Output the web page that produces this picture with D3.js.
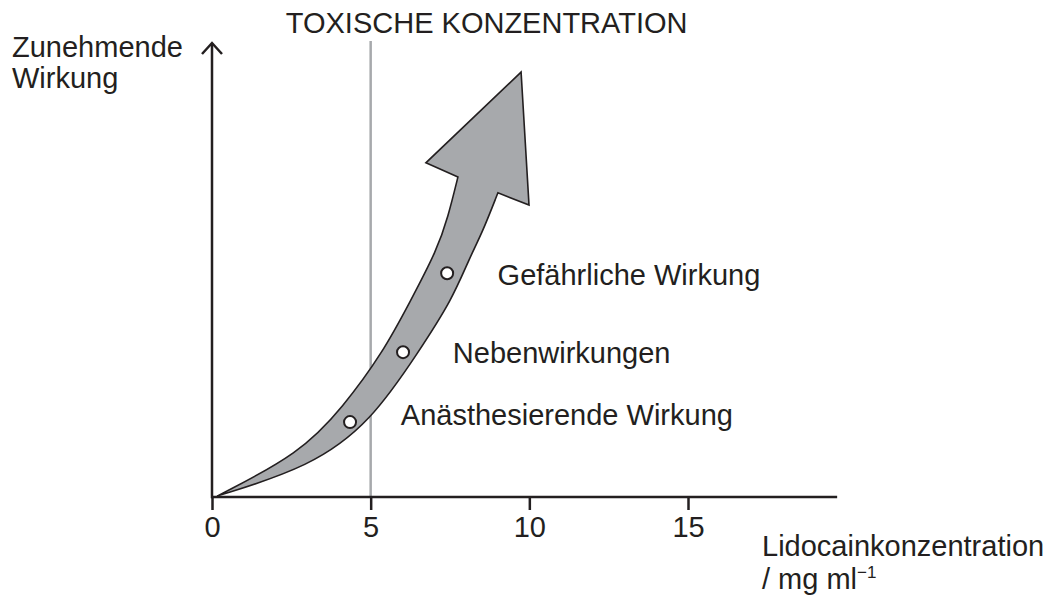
<!DOCTYPE html>
<html><head><meta charset="utf-8">
<script src="https://cdn.jsdelivr.net/npm/d3@7"></script>
<style>
html,body{margin:0;padding:0;background:#fff;}
text{font-family:"Liberation Sans",Arial,Helvetica,sans-serif;fill:#231f20;}
</style></head>
<body>
<svg id="chart" width="1052" height="601"></svg>
<script>
// Data (concentration in mg/ml, effect in arbitrary units 0-100)
const xTicks = [0, 5, 10, 15];
const xMax = 19.7;
const toxicConcentration = 5;
// Upper (left) edge of the curved band
const upperEdge = [[0.16,0.2],[2.77,9.6],[4.13,19.8],[5.39,31.9],[6.24,43.0],[7.09,54.4],[7.44,61.7],[7.75,70.5]];
// Lower (right) edge of the curved band
const lowerEdge = [[0.16,0.2],[3.09,6.6],[5.01,16.5],[6.55,32.4],[7.56,43.4],[8.13,52.9],[8.51,58.1],[9.01,67.0]];
// Arrow head: inner-left, left barb, tip, right barb, inner-right
const arrowHead = [[7.75,70.5],[6.74,73.6],[9.74,93.6],[9.99,64.3],[9.01,67.0]];
// Marked effect points on the arrow
const effectPoints = [[4.35,16.5],[6.02,31.9],[7.41,49.3]];
const effectLabels = ["Anästhesierende Wirkung","Nebenwirkungen","Gefährliche Wirkung"];
const labelAnchors = [[5.95,15.8],[7.59,29.5],[9.0,46.7]];

const svg = d3.select("#chart");
const x = d3.scaleLinear().domain([0, 15]).range([212, 688]);
const y = d3.scaleLinear().domain([0, 100]).range([497, 43]);
const ink = "#231f20";
const fs = 29;

// toxic concentration line
svg.append("line")
  .attr("x1", x(toxicConcentration)).attr("x2", x(toxicConcentration))
  .attr("y1", 41).attr("y2", y(0))
  .attr("stroke", "#a7a9ac").attr("stroke-width", 2.5);

// arrow band
const edge = d3.line().x(d => x(d[0])).y(d => y(d[1])).curve(d3.curveBasis);
const upPath = edge(upperEdge);
const lowPath = edge(lowerEdge.slice().reverse());
const headPath = d3.line().x(d => x(d[0])).y(d => y(d[1]))(arrowHead);
const d = upPath + " L" + headPath.slice(1) + " L" + lowPath.slice(1) + " Z";
svg.append("path").attr("d", d)
  .attr("fill", "#a7a9ac").attr("stroke", ink).attr("stroke-width", 1.6)
  .attr("stroke-linejoin", "miter");

// points
svg.selectAll("circle.pt").data(effectPoints).join("circle")
  .attr("class", "pt")
  .attr("cx", d => x(d[0])).attr("cy", d => y(d[1])).attr("r", 6)
  .attr("fill", "#fff").attr("stroke", ink).attr("stroke-width", 2);

// labels
svg.selectAll("text.lbl").data(effectLabels).join("text")
  .attr("class", "lbl")
  .attr("x", (d, i) => x(labelAnchors[i][0]))
  .attr("y", (d, i) => y(labelAnchors[i][1]))
  .attr("font-size", fs)
  .text(d => d);

// x axis
const xAxis = d3.axisBottom(x).tickValues(xTicks).tickSize(13).tickPadding(6).tickFormat(d3.format("d"));
const gx = svg.append("g").attr("transform", `translate(0,${y(0)})`).call(xAxis);
gx.select(".domain").remove();
gx.append("line").attr("x1", x(0) - 1).attr("x2", x(xMax)).attr("y1", 0).attr("y2", 0)
  .attr("stroke", ink).attr("stroke-width", 2.5);
gx.selectAll(".tick line").attr("stroke", ink).attr("stroke-width", 2.5);
gx.selectAll(".tick text").attr("font-size", fs).attr("fill", ink)
  .attr("font-family", "Liberation Sans, Arial, sans-serif").attr("dy", "0.72em");

// y axis with open arrow
svg.append("line").attr("x1", x(0)).attr("x2", x(0)).attr("y1", y(0) + 1.2).attr("y2", y(100))
  .attr("stroke", ink).attr("stroke-width", 2.5);
svg.append("path")
  .attr("d", `M${x(0) - 10},${y(100) + 11} L${x(0)},${y(100)} L${x(0) + 10},${y(100) + 11}`)
  .attr("fill", "none").attr("stroke", ink).attr("stroke-width", 2.5);

// titles
svg.append("text").attr("x", x(toxicConcentration) + 116).attr("y", 33)
  .attr("text-anchor", "middle").attr("font-size", fs).text("TOXISCHE KONZENTRATION");
svg.append("text").attr("x", 12).attr("y", 57).attr("font-size", fs).text("Zunehmende");
svg.append("text").attr("x", 12).attr("y", 88).attr("font-size", fs).text("Wirkung");
svg.append("text").attr("x", 762).attr("y", 556).attr("font-size", fs).text("Lidocainkonzentration");
const unit = svg.append("text").attr("x", 762).attr("y", 589).attr("font-size", fs);
unit.append("tspan").text("/ mg ml");
unit.append("tspan").attr("font-size", 17).attr("dy", -11).text("\u22121");
</script>
</body></html>
